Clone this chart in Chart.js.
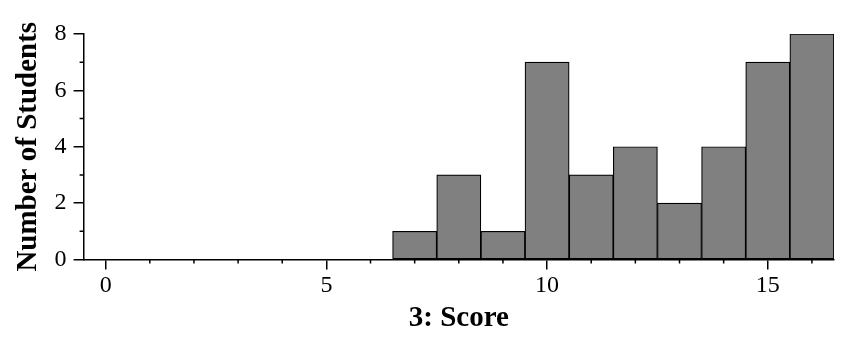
<!DOCTYPE html>
<html>
<head>
<meta charset="utf-8">
<script src="https://cdn.jsdelivr.net/npm/chart.js@4"></script>
<style>
  html, body { margin: 0; padding: 0; background: #fff; }
  #wrap { width: 848px; height: 342px; }
</style>
</head>
<body>
<div id="wrap"><canvas id="hist"></canvas></div>
<script>
// histogram data, one bin per score
var scores = [0, 1, 2, 3, 4, 5, 6, 7, 8, 9, 10, 11, 12, 13, 14, 15, 16]
var students = [0, 0, 0, 0, 0, 0, 0, 1, 3, 1, 7, 3, 4, 2, 4, 7, 8]
var xMajor = [0, 5, 10, 15]
var yMajor = [0, 2, 4, 6, 8]

var points = []
for (var i = 0; i < scores.length; i++) {
  points.push({x: scores[i], y: students[i]})
}

var tickFont = {family: "'Liberation Serif', 'Times New Roman', serif", size: 24}
var titleFont = {family: "'Liberation Serif', 'Times New Roman', serif", size: 29, weight: 'bold'}

// small ticks between the labelled ones
var minorTicks = {
  id: 'minorTicks',
  afterDraw: function(chart) {
    var c = chart.ctx
    var xs = chart.scales.x
    var ys = chart.scales.y
    c.save()
    c.strokeStyle = '#000'
    c.lineWidth = 1.5
    c.beginPath()
    for (var v = 0; v <= 16; v++) {
      if (v % 5 == 0) continue
      var px = xs.getPixelForValue(v)
      c.moveTo(px, xs.top)
      c.lineTo(px, xs.top + 4)
    }
    for (var w = 1; w < 8; w += 2) {
      var py = ys.getPixelForValue(w)
      c.moveTo(ys.right, py)
      c.lineTo(ys.right - 4, py)
    }
    c.stroke()
    c.restore()
  }
}

var ctx = document.getElementById('hist')
var myChart = new Chart(ctx, {
  type: 'bar',
  data: {
    datasets: [{
      data: points,
      backgroundColor: '#808080',
      borderColor: '#000',
      borderWidth: 1.2,
      borderSkipped: false,
      barPercentage: 1,
      categoryPercentage: 1,
      grouped: false
    }]
  },
  options: {
    responsive: true,
    maintainAspectRatio: false,
    animation: false,
    layout: {padding: {top: 34, right: 14, left: 0, bottom: 0}},
    plugins: {legend: {display: false}, tooltip: {enabled: false}},
    scales: {
      x: {
        type: 'linear',
        min: -0.5,
        max: 16.5,
        offset: false,
        afterBuildTicks: function(scale) {
          scale.ticks = xMajor.map(function(v) { return {value: v} })
        },
        afterFit: function(scale) { scale.height = 82.5 },
        grid: {offset: false, drawOnChartArea: false, drawTicks: true, tickLength: 10, color: '#000', lineWidth: 1.5},
        border: {display: true, color: '#000', width: 1.5},
        ticks: {font: tickFont, color: '#000', padding: 2, maxRotation: 0},
        title: {display: true, text: '3: Score', font: titleFont, color: '#000', padding: {bottom: 6}}
      },
      y: {
        min: 0,
        max: 8,
        afterBuildTicks: function(scale) {
          scale.ticks = yMajor.map(function(v) { return {value: v} })
        },
        afterFit: function(scale) { scale.width = 83.6 },
        grid: {drawOnChartArea: false, drawTicks: true, tickLength: 10, color: '#000', lineWidth: 1.5},
        border: {display: true, color: '#000', width: 1.5},
        ticks: {font: tickFont, color: '#000', padding: 7},
        title: {display: true, text: 'Number of Students', font: titleFont, color: '#000', padding: {top: 11}}
      }
    }
  },
  plugins: [minorTicks]
})
</script>
</body>
</html>
